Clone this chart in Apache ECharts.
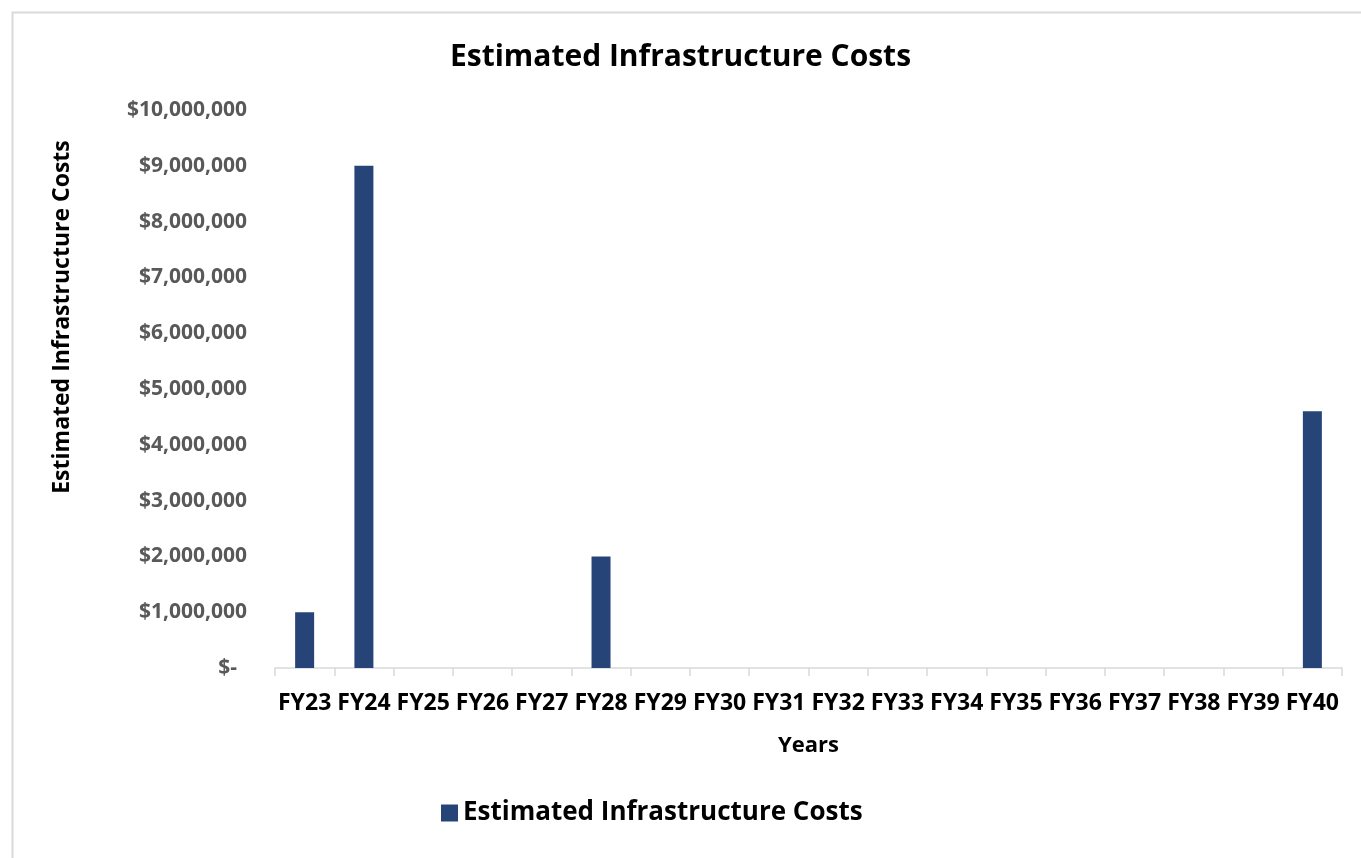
<!DOCTYPE html>
<html>
<head>
<meta charset="utf-8">
<script src="https://cdn.jsdelivr.net/npm/echarts@6/dist/echarts.min.js"></script>
<style>
html,body{margin:0;padding:0;background:#fff;}
#chart{width:1361px;height:858px;}
</style>
</head>
<body>
<div id="chart"></div>
<script>
const categories = ['FY23','FY24','FY25','FY26','FY27','FY28','FY29','FY30','FY31','FY32','FY33','FY34','FY35','FY36','FY37','FY38','FY39','FY40'];
const costs = [1000000, 9000000, 0, 0, 0, 2000000, 0, 0, 0, 0, 0, 0, 0, 0, 0, 0, 0, 4600000];
const seriesName = 'Estimated Infrastructure Costs';
const chartTitle = 'Estimated Infrastructure Costs';
const yAxisName = 'Estimated Infrastructure Costs';
const xAxisName = 'Years';

const FONT = '"Open Sans", "Noto Sans", sans-serif';
const chart = echarts.init(document.getElementById('chart'), null, {renderer:'canvas'});
chart.setOption({
  animation: false,
  backgroundColor: '#fff',
  graphic: [{
    type: 'rect', left: 10, top: 10, silent: true, z: -1,
    shape: {width: 1400, height: 900},
    style: {fill: 'none', stroke: '#d9d9d9', lineWidth: 2}
  }, {
    type: 'text', x: 62, y: 317, rotation: Math.PI / 2, silent: true,
    style: {text: yAxisName, fontFamily: FONT, fontWeight: 'bold', fontSize: 23, fill: '#000',
            align: 'center', verticalAlign: 'middle'}
  }],
  title: {
    text: chartTitle, left: 'center', top: 37,
    textStyle: {fontFamily: FONT, fontWeight: 'bold', fontSize: 30, color: '#000'}
  },
  legend: {
    data: [seriesName], left: 436, top: 795,
    itemWidth: 17, itemHeight: 17, icon: 'rect', itemGap: 8,
    textStyle: {fontFamily: FONT, fontWeight: 'bold', fontSize: 26, color: '#000'}
  },
  grid: {left: 275, right: 19, top: 110, bottom: 190, containLabel: false},
  xAxis: {
    type: 'category', data: categories,
    name: xAxisName, nameLocation: 'middle', nameGap: 67,
    nameTextStyle: {fontFamily: FONT, fontWeight: 'bold', fontSize: 22, color: '#000'},
    axisLine: {lineStyle: {color: '#d9d9d9', width: 1.5}},
    axisTick: {show: true, length: 8, lineStyle: {color: '#d9d9d9', width: 1.5}},
    axisLabel: {fontFamily: FONT, fontWeight: 'bold', fontSize: 23, color: '#000', margin: 24, interval: 0}
  },
  yAxis: {
    type: 'value', min: 0, max: 10000000, interval: 1000000,
    axisLine: {show: false}, axisTick: {show: false},
    splitLine: {show: false},
    axisLabel: {
      fontFamily: FONT, fontWeight: 'bold', fontSize: 21, color: '#595959', margin: 28,
      formatter: function (v) { return v === 0 ? '{z|$-}' : '$' + v.toLocaleString('en-US'); },
      rich: {z: {fontFamily: FONT, fontWeight: 'bold', fontSize: 21, color: '#595959', padding: [0, 10, 0, 0]}}
    }
  },
  series: [{
    name: seriesName, type: 'bar', data: costs, barWidth: 19,
    itemStyle: {color: '#264478'}
  }]
});
</script>
</body>
</html>
